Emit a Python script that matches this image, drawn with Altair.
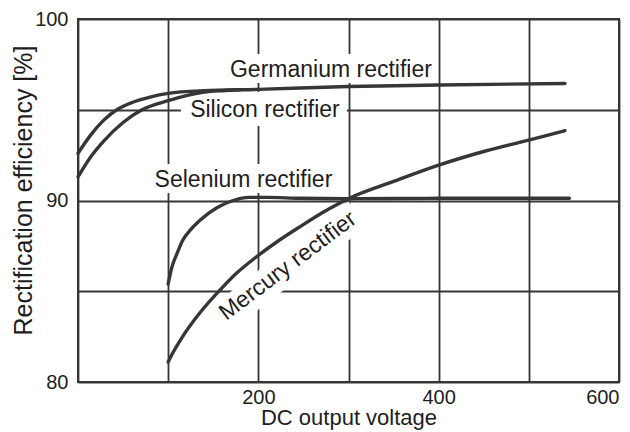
import altair as alt
import pandas as pd

# ---- axis ticks ----
x_ticks = [0, 100, 200, 300, 400, 500, 600]
y_ticks = [80, 85, 90, 95, 100]

# ---- curves ----
germanium_x = [0, 14, 28, 43, 60, 80, 100, 140, 200, 300, 400, 540]
germanium_y = [92.6, 93.6, 94.4, 95.0, 95.4, 95.7, 95.9, 96.05, 96.12, 96.28, 96.36, 96.45]

silicon_x = [0, 14, 28, 50, 71, 100, 120, 140, 160, 180]
silicon_y = [91.3, 92.4, 93.25, 94.3, 95.0, 95.5, 95.78, 95.97, 96.05, 96.1]

selenium_x = [100, 104, 110, 116, 125, 135, 154, 172, 190, 210, 246, 300, 400, 545]
selenium_y = [85.4, 86.3, 87.1, 87.8, 88.4, 88.9, 89.6, 90.0, 90.17, 90.17, 90.12, 90.1, 90.12, 90.12]

mercury_x = [100, 103, 116, 135, 160, 176, 198, 220, 246, 270, 290, 300, 350, 400, 450, 500, 540]
mercury_y = [81.1, 81.4, 82.5, 83.8, 85.2, 86.0, 86.9, 87.7, 88.55, 89.3, 89.85, 90.1, 91.05, 91.95, 92.7, 93.33, 93.85]

# ---- curve labels ----
label_text = ["Germanium rectifier", "Silicon rectifier", "Selenium rectifier", "Mercury rectifier"]
label_x = [280.5, 207.3, 183.5, 237.3]
label_y = [96.83, 94.60, 90.76, 86.09]
label_angle = [0, 0, 0, 323]

# white boxes behind the horizontal labels (grid gaps)
box_x = [161.9, 114.2, 77.6]
box_x2 = [394.7, 298.2, 288.2]
box_y = [98.07, 95.98, 92.01]
box_y2 = [96.47, 94.10, 90.41]

# white band behind the rotated Mercury label
band_x, band_x2 = [155.2], [310.4]
band_y, band_y2 = [83.36], [89.27]

rows = []
for name, xs, ys in [("Germanium", germanium_x, germanium_y),
                     ("Silicon", silicon_x, silicon_y),
                     ("Selenium", selenium_x, selenium_y),
                     ("Mercury", mercury_x, mercury_y)]:
    for i, (a, b) in enumerate(zip(xs, ys)):
        rows.append({"series": name, "x": a, "y": b, "order": i})
lines_df = pd.DataFrame(rows)

labels_df = pd.DataFrame({"text": label_text, "x": label_x, "y": label_y, "angle": label_angle})
boxes_df = pd.DataFrame({"x": box_x, "x2": box_x2, "y": box_y, "y2": box_y2})
band_df = pd.DataFrame({"x": band_x, "x2": band_x2, "y": band_y, "y2": band_y2})

INK = "#363636"
TEXT = "#1e1e1e"
FONT = "Liberation Sans"

xscale = alt.Scale(domain=[0, 600], nice=False, zero=False)
yscale = alt.Scale(domain=[80, 100], nice=False, zero=False)

x_axis = alt.Axis(
    values=x_ticks,
    labelExpr="datum.value % 200 == 0 && datum.value > 0 ? datum.label : ''",
    grid=True, ticks=False, domain=False,
    labelFlush=False, labelOverlap=False,
    labelAlign={"condition": {"test": "datum.value == 600", "value": "right"}, "value": "center"},
    labelFontSize=20, labelPadding=5, labelColor=TEXT, labelFont=FONT,
    title="DC output voltage", titleFontSize=22, titleFontWeight="normal",
    titleColor=TEXT, titleFont=FONT, titleY=42, titleBaseline="alphabetic",
)
y_axis = alt.Axis(
    values=y_ticks,
    labelExpr="datum.value % 10 == 0 ? datum.label : ''",
    grid=True, ticks=False, domain=False,
    labelFlush=False, labelOverlap=False,
    labelFontSize=20, labelPadding=10, labelColor=TEXT, labelFont=FONT,
    title="Rectification efficiency [%]", titleFontSize=25, titleFontWeight="normal",
    titleColor=TEXT, titleFont=FONT, titleX=-47, titleY=171,
    titleAngle=270, titleAlign="center", titleBaseline="alphabetic",
)

X = alt.X("x:Q", scale=xscale, axis=x_axis)
Y = alt.Y("y:Q", scale=yscale, axis=y_axis)

lines = alt.Chart(lines_df).mark_line(
    color=INK, strokeWidth=3.4, interpolate="monotone", strokeCap="round"
).encode(x=X, y=Y, detail="series:N", order="order:Q")

boxes = alt.Chart(boxes_df).mark_rect(color="white").encode(
    x=X, x2="x2:Q", y=Y, y2="y2:Q",
)

band = alt.Chart(band_df).mark_rule(color="white", strokeWidth=31, strokeCap="butt").encode(
    x=X, x2="x2:Q", y=Y, y2="y2:Q",
)

flat_labels = alt.Chart(labels_df[labels_df["angle"] == 0]).mark_text(
    fontSize=23, font=FONT, color=TEXT, align="center", baseline="alphabetic"
).encode(x=X, y=Y, text="text:N")

rot_labels = alt.Chart(labels_df[labels_df["angle"] != 0]).mark_text(
    fontSize=23, font=FONT, color=TEXT, align="center", baseline="alphabetic", angle=323
).encode(x=X, y=Y, text="text:N")

chart = alt.layer(boxes, band, lines, flat_labels, rot_labels).properties(
    width=541, height=363,
    autosize=alt.AutoSizeParams(type="none"),
    padding={"left": 70, "top": 11, "right": 3, "bottom": 48},
    background="white",
).configure_view(
    stroke=INK, strokeWidth=2
).configure_axis(
    gridColor=INK, gridWidth=1.8, gridOpacity=1
)

chart.save("out.html", embed_options={"renderer": "svg", "actions": False})
